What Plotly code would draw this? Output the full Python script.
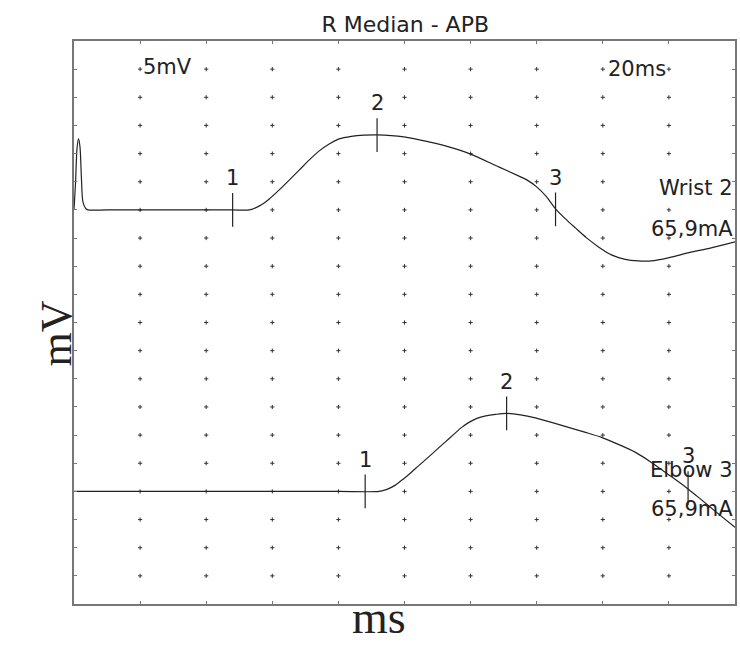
import numpy as np
import plotly.graph_objects as go

# ---- data (ms, mV relative to each trace's baseline) ----
wrist_t = [0, 0.45, 0.9, 1.36, 1.81, 2.26, 2.71, 3.62, 4.2, 10, 20, 30, 40, 48,
           53.1, 56.1, 59.1, 62.1, 65.2, 68.2, 71.2, 74.2, 77.2, 80.2, 83.9, 87.8, 91.7,
           99.8, 107.4, 113.4, 119.8, 128.5, 134.5, 137.0, 140.0, 143.0, 145.7, 148.7,
           151.7, 155.1, 158.7, 162.6, 166.8, 170.7, 174.7, 179.8, 185.8, 192.8, 200.0]
wrist_v = [0, 4.6, 10.8, 12.6, 11.2, 5.5, 1.4, 0.2, 0, 0, 0, 0, 0, 0,
           0, 0.71, 1.95, 3.55, 5.33, 7.10, 8.88, 10.48, 11.72, 12.61, 13.06, 13.27, 13.32,
           12.97, 12.08, 11.19, 9.95, 7.64, 6.04, 5.33, 4.09, 2.31, 0.18, -1.60,
           -3.20, -4.97, -6.57, -7.99, -8.79, -9.06, -9.06, -8.53, -7.64, -6.75, -5.68]

elbow_t = [0, 20, 40, 60, 80, 92.3, 94.7, 97.1, 99.5, 102.0, 104.4, 106.8, 109.5, 112.2,
           114.9, 117.3, 119.5, 121.9, 124.6, 127.6, 130.9, 135.1, 139.6, 144.5, 149.6,
           154.8, 159.6, 164.7, 169.9, 174.7, 179.8, 185.2, 189.7, 194.8, 200.0]
elbow_v = [0, 0, 0, 0, 0, 0, 0.36, 1.07, 2.13, 3.37, 4.62, 5.86, 7.28, 8.70,
           10.12, 11.37, 12.26, 12.97, 13.41, 13.68, 13.85, 13.59, 13.05, 12.26, 11.37,
           10.48, 9.59, 8.35, 6.93, 5.15, 3.02, 0.71, -1.42, -3.91, -6.39]

wrist_marker_t = [48.0, 91.7, 145.7]
wrist_marker_v = [0, 13.3, 0.1]
elbow_marker_t = [88.1, 130.9, 185.8]
elbow_marker_v = [0, 13.85, 0.6]
marker_labels = ["1", "2", "3"]

wrist_offset = 70   # display baseline (mV)
elbow_offset = 20

title = "R Median - APB"
wrist_name, elbow_name = "Wrist 2", "Elbow 3"
stim_label = "65,9mA"
gain_label, sweep_label = "5mV", "20ms"

x_range, x_div = (0, 200), 20
y_range, y_div = (0, 100), 5

SANS = "DejaVu Sans"
SERIF = "Liberation Serif"
INK = "#222222"

fig = go.Figure()

# dotted grid
gx = np.arange(x_range[0] + x_div, x_range[1], x_div)
gy = np.arange(y_range[0] + y_div, y_range[1], y_div)
GX, GY = np.meshgrid(gx, gy)
fig.add_trace(go.Scatter(x=GX.ravel(), y=GY.ravel(), mode="markers",
                         marker=dict(symbol="cross-thin", size=3, color="#333",
                                     line=dict(width=1, color="#333")),
                         hoverinfo="skip"))

# traces
for t, v, off in [(wrist_t, wrist_v, wrist_offset), (elbow_t, elbow_v, elbow_offset)]:
    fig.add_trace(go.Scatter(x=t, y=[a + off for a in v], mode="lines",
                             line=dict(color=INK, width=1.2, shape="spline", smoothing=0.8)))

# marker ticks and labels
half = 3.0
ann = []
for mt, mv, off in [(wrist_marker_t, wrist_marker_v, wrist_offset),
                    (elbow_marker_t, elbow_marker_v, elbow_offset)]:
    xs, ys = [], []
    for t, v, lab in zip(mt, mv, marker_labels):
        xs += [t, t, None]
        ys += [v + off - half, v + off + half, None]
        ann.append(dict(x=t, y=v + off + 5.6, text=lab, showarrow=False, xref="x", yref="y",
                        font=dict(family=SANS, size=21, color=INK)))
    fig.add_trace(go.Scatter(x=xs, y=ys, mode="lines", line=dict(color=INK, width=1.2)))

def txt(x, y, s, xanchor="center", size=21):
    ann.append(dict(x=x, y=y, text=s, showarrow=False, xref="x", yref="y",
                    xanchor=xanchor, yanchor="middle",
                    font=dict(family=SANS, size=size, color=INK)))

txt(28.4, 95.3, gain_label)
txt(170.4, 95.0, sweep_label)
txt(200, 73.9, wrist_name, xanchor="right")
txt(200, 66.6, stim_label, xanchor="right")
txt(200, 23.8, elbow_name, xanchor="right")
txt(200, 16.9, stim_label, xanchor="right")

ann.append(dict(x=-0.067, y=0.481, xref="paper", yref="paper", text="mV", showarrow=False,
                textangle=-90, font=dict(family=SERIF, size=44, color=INK)))
ann.append(dict(x=0.4615, y=-0.072, xref="paper", yref="paper", text="ms", showarrow=False,
                font=dict(family=SERIF, size=46, color=INK)))

axis_common = dict(showgrid=False, zeroline=False, showline=True, mirror="ticks",
                   linecolor="#777", linewidth=1.5, ticks="inside", ticklen=3,
                   tickcolor="#777", showticklabels=False, fixedrange=True)

fig.update_layout(
    width=740, height=664,
    margin=dict(l=74, r=3, t=41, b=60),
    paper_bgcolor="white", plot_bgcolor="white",
    showlegend=False,
    title=dict(text=title, x=0.5476, xanchor="center", y=1 - 24 / 664, yanchor="middle",
               yref="container", font=dict(family=SANS, size=22, color=INK)),
    xaxis=dict(range=list(x_range), dtick=x_div, tick0=0, **axis_common),
    yaxis=dict(range=list(y_range), dtick=y_div, tick0=0, **axis_common),
    annotations=ann,
)

fig.write_html("out.html")
